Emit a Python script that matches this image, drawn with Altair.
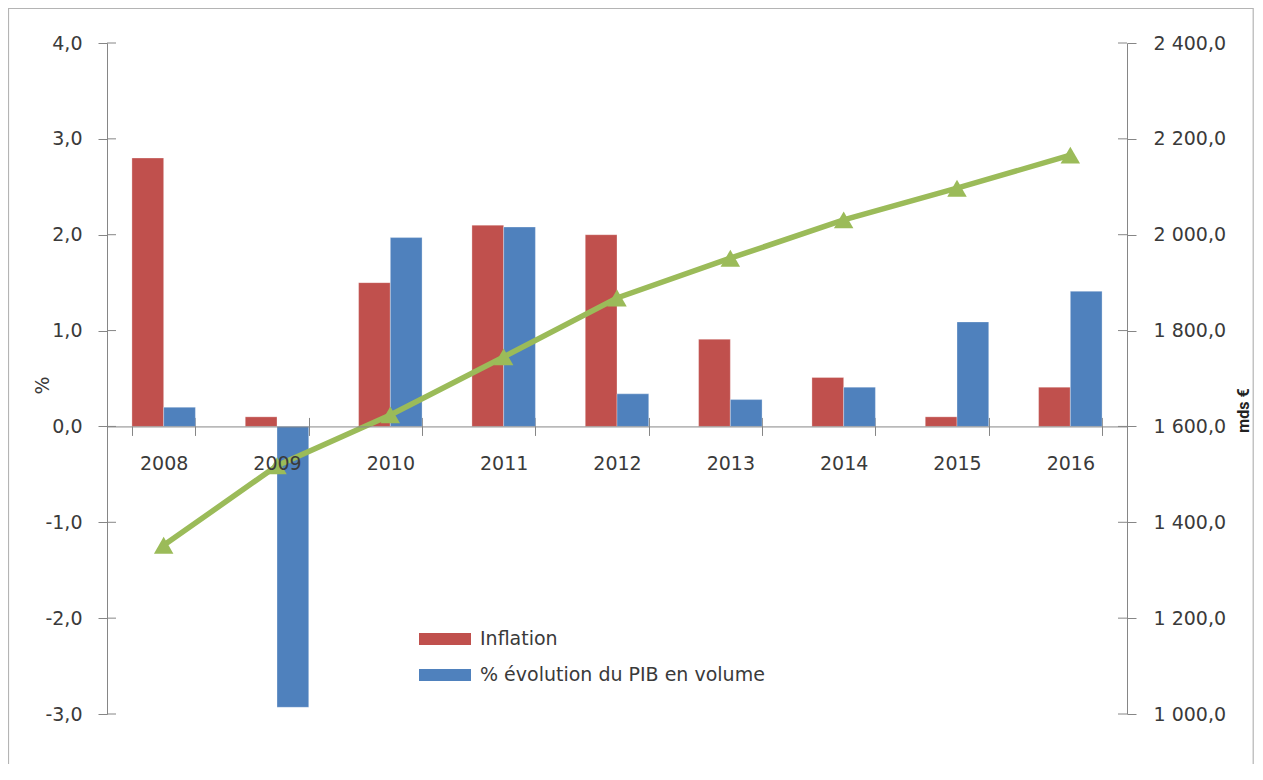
import altair as alt
import pandas as pd

years = ["2008", "2009", "2010", "2011", "2012", "2013", "2014", "2015", "2016"]
inflation = [2.8, 0.1, 1.5, 2.1, 2.0, 0.91, 0.51, 0.1, 0.41]
pib_evol = [0.2, -2.93, 1.97, 2.08, 0.34, 0.28, 0.41, 1.09, 1.41]
pib_mds = [1352, 1518, 1624, 1745, 1868, 1951, 2031, 2097, 2166]
series_names = ["Inflation", "% évolution du PIB en volume"]
series_colors = ["#C0504D", "#4F81BD"]
left_ticks = [-3, -2, -1, 0, 1, 2, 3, 4]
right_ticks = [1000, 1200, 1400, 1600, 1800, 2000, 2200, 2400]

W, H = 1020, 671
PAD_R = 127
zero_px = H * 4 / 7
FONT = "DejaVu Sans"
TXT = "#3a3a3a"
AX = "#868686"

bars_df = pd.DataFrame(
    [{"year": y, "series": series_names[0], "value": v} for y, v in zip(years, inflation)]
    + [{"year": y, "series": series_names[1], "value": v} for y, v in zip(years, pib_evol)]
)
line_df = pd.DataFrame({"year": years, "gdp": pib_mds})
lt_df = pd.DataFrame({"value": left_ticks})
rt_df = pd.DataFrame({"gdp": right_ticks})

left_axis = alt.Axis(
    values=left_ticks, grid=False, tickSize=9, tickColor=AX, domainColor=AX,
    labelExpr="replace(replace(format(datum.value, '.1f'), '.', ','), '\u2212', '-')",
    labelFont=FONT, labelFontSize=19, labelColor=TXT, labelPadding=16,
    title="%", titleFont=FONT, titleFontSize=19, titleFontWeight="normal", titleColor=TXT,
    titleAngle=270, titleX=-65, titleY=342, titleAlign="center", titleBaseline="middle",
)
left_scale = alt.Scale(domain=[-3, 4], nice=False, zero=False)

right_axis = alt.Axis(
    orient="right", values=right_ticks, grid=False, tickSize=9, tickColor=AX, domainColor=AX,
    labelExpr="replace(replace(format(datum.value, ',.1f'), ',', ' '), '.', ',')",
    labelFont=FONT, labelFontSize=19, labelColor=TXT, labelPadding=17,
    title="mds €", titleFont="Roboto", titleFontSize=16, titleFontWeight="bold", titleColor="#222",
    titleAngle=270, titleX=116, titleY=367, titleAlign="center", titleBaseline="middle",
)
right_scale = alt.Scale(domain=[1000, 2400], nice=False, zero=False)

x_scale = alt.Scale(paddingInner=0.44, paddingOuter=0.22)

border = alt.Chart(alt.Data(values=[{}])).mark_rect(
    fill=None, stroke="#b4b4b4", strokeWidth=1.2
).encode(x=alt.value(-98.5), x2=alt.value(W + PAD_R - 0.8), y=alt.value(-34.5), y2=alt.value(H + 200))

bars = alt.Chart(bars_df).mark_bar(stroke="white", strokeWidth=0.5, strokeOpacity=0.6).encode(
    x=alt.X("year:N", sort=years, scale=x_scale, axis=alt.Axis(
        orient="bottom", offset=-(H - zero_px), title=None, labelAngle=0, tickBand="extent",
        tickSize=9, tickColor=AX, domainColor=AX, labelFont=FONT, labelFontSize=19,
        labelColor=TXT, labelPadding=19, zindex=1)),
    xOffset=alt.XOffset("series:N", sort=series_names),
    y=alt.Y("value:Q", scale=left_scale, axis=left_axis),
    color=alt.Color("series:N", sort=series_names,
                    scale=alt.Scale(domain=series_names, range=series_colors),
                    legend=alt.Legend(
                        title=None, orient="none", legendX=312, legendY=570,
                        symbolType="M-1,-0.23H1V0.23H-1Z", symbolSize=2704,
                        symbolStrokeWidth=0, labelFont=FONT, labelFontSize=19,
                        labelColor=TXT, labelOffset=9, rowPadding=-8, labelLimit=500)),
)

lticks = alt.Chart(lt_df).mark_rule(color=AX, strokeWidth=1).encode(
    y=alt.Y("value:Q", scale=left_scale, axis=left_axis),
    x=alt.value(0), x2=alt.value(9),
)

line = alt.Chart(line_df).mark_line(
    color="#9BBB59", strokeWidth=5.5,
    point=alt.OverlayMarkDef(shape="triangle-up", size=380, filled=True, color="#9BBB59"),
).encode(
    x=alt.X("year:N", sort=years, scale=x_scale, axis=alt.Axis(
        orient="top", offset=-zero_px, title=None, labels=False, domain=False,
        tickBand="extent", tickSize=9, tickColor=AX)),
    y=alt.Y("gdp:Q", scale=right_scale, axis=right_axis),
)

rticks = alt.Chart(rt_df).mark_rule(color=AX, strokeWidth=1).encode(
    y=alt.Y("gdp:Q", scale=right_scale, axis=right_axis),
    x=alt.value(W - 9), x2=alt.value(W),
)

left = alt.layer(border, bars, lticks)
right = alt.layer(line, rticks)

chart = alt.layer(left, right).resolve_scale(y="independent").resolve_axis(x="independent").properties(
    width=W, height=H,
    autosize=alt.AutoSizeParams(type="none"),
    padding={"left": 99, "top": 35, "right": PAD_R, "bottom": 50},
    background="white",
).configure_view(stroke=None)

chart.save("out.html", embed_options={"renderer": "svg", "actions": False})
